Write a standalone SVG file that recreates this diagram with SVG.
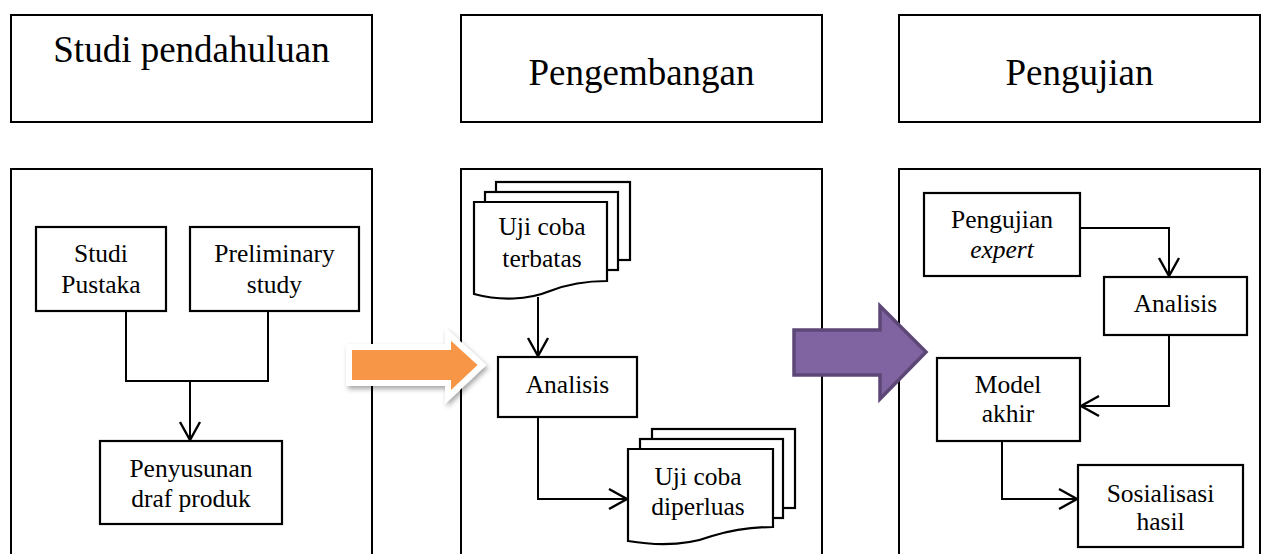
<svg xmlns="http://www.w3.org/2000/svg" width="1264" height="554" viewBox="0 0 1264 554" font-family="'Liberation Serif', 'Times New Roman', Times, serif">
<style>
.panel{fill:#fff;stroke:#000;stroke-width:2}
.box{fill:#fff;stroke:#000;stroke-width:2.2}
.t{font-size:25.5px;fill:#000;text-anchor:middle}
.h{font-size:37px;fill:#000;text-anchor:middle}
.c{fill:none;stroke:#000;stroke-width:2}
.a{fill:none;stroke:#000;stroke-width:2.4;stroke-linejoin:miter}
</style>
<defs>
<filter id="sh" x="-20%" y="-30%" width="140%" height="160%">
<feDropShadow dx="2" dy="3" stdDeviation="2.5" flood-color="#000" flood-opacity="0.35"/>
</filter>
</defs>
<rect width="1264" height="554" fill="#fff"/>

<g id="panel-top-1"><rect class="panel" x="11" y="15" width="361" height="107"/><text class="h" x="191.5" y="62">Studi pendahuluan</text></g>
<g id="panel-top-2"><rect class="panel" x="461" y="15" width="361" height="107"/><text class="h" x="641.5" y="85">Pengembangan</text></g>
<g id="panel-top-3"><rect class="panel" x="899" y="15" width="361" height="107"/><text class="h" x="1079.5" y="85">Pengujian</text></g>

<g id="panel-bottom-1"><rect class="panel" x="11" y="169" width="361" height="400"/></g>
<g id="panel-bottom-2"><rect class="panel" x="461" y="169" width="361" height="400"/></g>
<g id="panel-bottom-3"><rect class="panel" x="899" y="169" width="361" height="400"/></g>

<g id="connectors">
<path class="c" d="M126,311 V381 H268 V311"/>
<path class="c" d="M190,381 V440"/>
<path class="a" d="M180,422 L190,440 L200,422"/>
<path class="c" d="M538,297 V356"/>
<path class="a" d="M528,338 L538,356 L548,338"/>
<path class="c" d="M538,417 V499 H627"/>
<path class="a" d="M609,489 L627,499 L609,509"/>
<path class="c" d="M1080,228 H1169 V276"/>
<path class="a" d="M1159,258 L1169,276 L1179,258"/>
<path class="c" d="M1169,335 V406 H1081"/>
<path class="a" d="M1099,396 L1081,406 L1099,416"/>
<path class="c" d="M1002,441 V499 H1077"/>
<path class="a" d="M1059,489 L1077,499 L1059,509"/>
</g>

<g id="studi-pustaka"><rect class="box" x="36" y="227" width="130" height="84"/><text class="t" x="101" y="262">Studi</text><text class="t" x="101" y="293">Pustaka</text></g>
<g id="preliminary-study"><rect class="box" x="190" y="227" width="169" height="84"/><text class="t" x="274.5" y="262">Preliminary</text><text class="t" x="274.5" y="293">study</text></g>
<g id="penyusunan"><rect class="box" x="100" y="441" width="182" height="83"/><text class="t" x="191" y="477">Penyusunan</text><text class="t" x="191" y="507">draf produk</text></g>

<g id="orange-arrow" filter="url(#sh)">
<path d="M349,347 H448 V334 L482,365 L448,397 V383 H349 Z" fill="#F79646" stroke="#fff" stroke-width="6" stroke-linejoin="miter"/>
</g>

<g id="uji-coba-terbatas">
<rect x="496" y="182" width="134" height="78" fill="#fff" stroke="#000" stroke-width="2.2"/>
<rect x="485" y="192" width="133" height="78" fill="#fff" stroke="#000" stroke-width="2.2"/>
<path d="M474,202 H607 V281 C585,281 568,284 550,291 C528,300 500,301 474,294 Z" fill="#fff" stroke="#000" stroke-width="2.2"/>
<text class="t" x="542" y="235">Uji coba</text><text class="t" x="542" y="267">terbatas</text>
</g>

<g id="analisis-1"><rect class="box" x="498" y="357" width="139" height="60"/><text class="t" x="567.5" y="393">Analisis</text></g>

<g id="uji-coba-diperluas">
<rect x="652" y="429" width="143" height="79" fill="#fff" stroke="#000" stroke-width="2.2"/>
<rect x="640" y="439" width="143" height="79" fill="#fff" stroke="#000" stroke-width="2.2"/>
<path d="M628,449 H773 V527 C750,527 732,530 712,536 C688,545 658,546 628,541 Z" fill="#fff" stroke="#000" stroke-width="2.2"/>
<text class="t" x="698" y="485">Uji coba</text><text class="t" x="698" y="515">diperluas</text>
</g>

<g id="purple-arrow">
<path d="M794,330 H880 V306 L926,352 L880,399 V375 H794 Z" fill="#8064A2" stroke="#5C4776" stroke-width="3.5" stroke-linejoin="miter"/>
</g>

<g id="pengujian-expert"><rect class="box" x="924" y="193" width="156" height="83"/><text class="t" x="1002" y="228">Pengujian</text><text class="t" x="1002" y="258" font-style="italic">expert</text></g>
<g id="analisis-2"><rect class="box" x="1104" y="277" width="143" height="58" fill="#F2F2EC"/><text class="t" x="1175.5" y="312">Analisis</text></g>
<g id="model-akhir"><rect class="box" x="937" y="358" width="143" height="83"/><text class="t" x="1008" y="393">Model</text><text class="t" x="1008" y="422">akhir</text></g>
<g id="sosialisasi-hasil"><rect class="box" x="1078" y="465" width="165" height="82"/><text class="t" x="1160.5" y="502">Sosialisasi</text><text class="t" x="1160.5" y="530">hasil</text></g>
</svg>
